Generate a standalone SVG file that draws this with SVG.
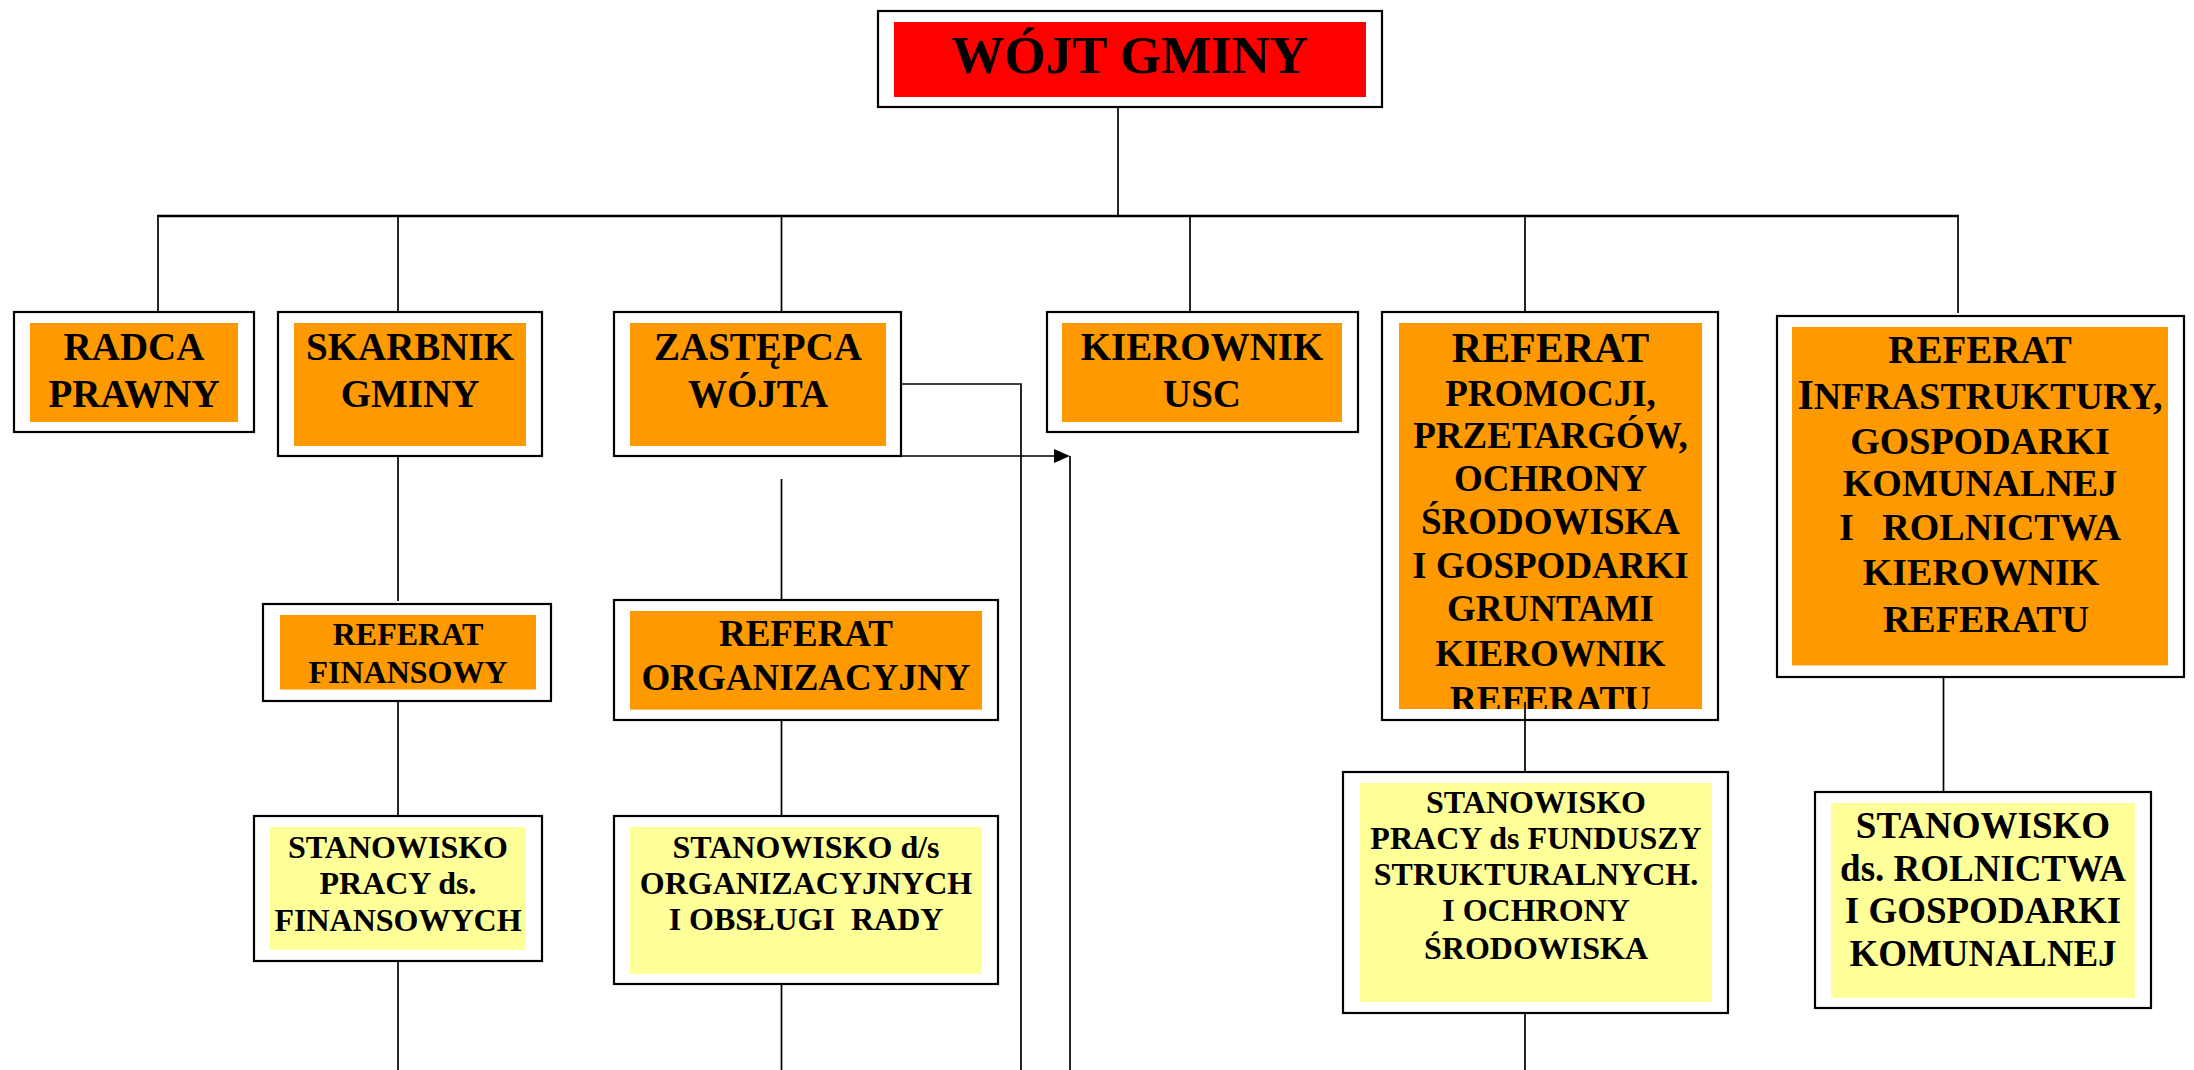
<svg xmlns="http://www.w3.org/2000/svg" width="2194" height="1070" viewBox="0 0 2194 1070">
<style>
.o{fill:#fff;stroke:#000;stroke-width:2.2}
.or{fill:#FF9900}
.ye{fill:#FFFF99}
.rd{fill:#FF0000}
text{font-family:"Liberation Serif","Times New Roman",serif;font-weight:bold;fill:#000;text-anchor:middle;white-space:pre}
.c{fill:none;stroke:#000;stroke-width:1.7}
</style>
<defs>
<clipPath id="clipProm"><rect x="1399" y="323" width="303" height="386"/></clipPath>
</defs>
<rect width="2194" height="1070" fill="#fff"/>
<g id="connectors">
<line class="c" x1="1118" y1="96" x2="1118" y2="216"/>
<line x1="157" y1="216" x2="1959" y2="216" stroke="#000" stroke-width="2.6"/>
<line class="c" x1="158" y1="216" x2="158" y2="312"/>
<line class="c" x1="398" y1="216" x2="398" y2="312"/>
<line class="c" x1="781.5" y1="216" x2="781.5" y2="312"/>
<line class="c" x1="1190" y1="216" x2="1190" y2="312"/>
<line class="c" x1="1525" y1="216" x2="1525" y2="312"/>
<line class="c" x1="1958" y1="216" x2="1958" y2="313"/>
<line class="c" x1="398" y1="456" x2="398" y2="601"/>
<line class="c" x1="398" y1="696" x2="398" y2="816"/>
<line class="c" x1="398" y1="961" x2="398" y2="1070"/>
<line class="c" x1="781.5" y1="479" x2="781.5" y2="600"/>
<line class="c" x1="781.5" y1="720" x2="781.5" y2="816"/>
<line class="c" x1="781.5" y1="984" x2="781.5" y2="1070"/>
<polyline class="c" points="901,384 1021,384 1021,1070"/>
<line class="c" x1="901" y1="456" x2="1055" y2="456"/>
<polygon points="1054,449 1070,456 1054,463" fill="#000"/>
<line class="c" x1="1070" y1="456" x2="1070" y2="1070"/>
<line class="c" x1="1943.5" y1="677" x2="1943.5" y2="797"/>
<line class="c" x1="1525" y1="1008" x2="1525" y2="1070"/>
</g>
<g id="wojt">
<rect class="o" x="878" y="11" width="504" height="96"/>
<rect class="rd" x="894" y="22" width="472" height="75"/>
<text x="1130" y="73" font-size="53">WÓJT GMINY</text>
</g>
<g id="radca">
<rect class="o" x="14" y="312" width="240" height="120"/>
<rect class="or" x="30" y="323" width="208" height="99"/>
<text x="134" y="360" font-size="39">RADCA</text>
<text x="134" y="407" font-size="39">PRAWNY</text>
</g>
<g id="skarbnik">
<rect class="o" x="278" y="312" width="264" height="144"/>
<rect class="or" x="294" y="323" width="232" height="123"/>
<text x="410" y="360" font-size="39">SKARBNIK</text>
<text x="410" y="407" font-size="39">GMINY</text>
</g>
<g id="zastepca">
<rect class="o" x="614" y="312" width="287" height="144"/>
<rect class="or" x="630" y="323" width="256" height="123"/>
<text x="758" y="360" font-size="39">ZASTĘPCA</text>
<text x="758" y="407" font-size="39">WÓJTA</text>
</g>
<g id="kierownik-usc">
<rect class="o" x="1047" y="312" width="311" height="120"/>
<rect class="or" x="1062" y="323" width="280" height="99"/>
<text x="1202" y="360" font-size="39">KIEROWNIK</text>
<text x="1202" y="407" font-size="39">USC</text>
</g>
<g id="referat-promocji">
<rect class="o" x="1382" y="312" width="336" height="408"/>
<rect class="or" x="1399" y="323" width="303" height="386"/>
<g clip-path="url(#clipProm)" font-size="37">
<text x="1550.5" y="362" font-size="42">REFERAT</text>
<text x="1550.5" y="406">PROMOCJI,</text>
<text x="1550.5" y="448">PRZETARGÓW,</text>
<text x="1550.5" y="491">OCHRONY</text>
<text x="1550.5" y="534">ŚRODOWISKA</text>
<text x="1550.5" y="578">I GOSPODARKI</text>
<text x="1550.5" y="621">GRUNTAMI</text>
<text x="1550.5" y="666">KIEROWNIK</text>
<text x="1550.5" y="711.5">REFERATU</text>
</g>
<line class="c" x1="1525" y1="702" x2="1525" y2="772"/>
</g>
<g id="referat-infrastruktury">
<rect class="o" x="1777" y="316" width="407" height="361"/>
<rect class="or" x="1792" y="327" width="376" height="338.4"/>
<text x="1980" y="363" font-size="39">REFERAT</text>
<text x="1980" y="409" font-size="38"><tspan font-size="42">I</tspan>NFRASTRUKTURY,</text>
<text x="1980" y="454" font-size="38">GOSPODARKI</text>
<text x="1980" y="496" font-size="38">KOMUNALNEJ</text>
<text x="1980" y="540" font-size="38">I   ROLNICTWA</text>
<text x="1981" y="585" font-size="38">KIEROWNIK</text>
<text x="1986" y="632" font-size="38">REFERATU</text>
</g>
<g id="referat-finansowy">
<rect class="o" x="263" y="604" width="288" height="97"/>
<rect class="or" x="280" y="615" width="256" height="74.5"/>
<text x="408" y="645" font-size="32">REFERAT</text>
<text x="408" y="683" font-size="32">FINANSOWY</text>
</g>
<g id="referat-organizacyjny">
<rect class="o" x="614" y="600" width="384" height="120"/>
<rect class="or" x="630" y="611" width="352" height="98.6"/>
<text x="806" y="646" font-size="37">REFERAT</text>
<text x="806" y="690" font-size="37">ORGANIZACYJNY</text>
</g>
<g id="stanowisko-finansowe">
<rect class="o" x="254" y="816" width="288" height="145"/>
<rect class="ye" x="270" y="827" width="256" height="123"/>
<text x="398" y="858" font-size="32">STANOWISKO</text>
<text x="398" y="894" font-size="32">PRACY ds.</text>
<text x="398" y="931" font-size="32">FINANSOWYCH</text>
</g>
<g id="stanowisko-organizacyjne">
<rect class="o" x="614" y="816" width="384" height="168"/>
<rect class="ye" x="630" y="827" width="352" height="147"/>
<text x="806" y="858" font-size="32">STANOWISKO d/s</text>
<text x="806" y="894" font-size="32">ORGANIZACYJNYCH</text>
<text x="806" y="930" font-size="32">I OBSŁUGI  RADY</text>
</g>
<g id="stanowisko-fundusze">
<rect class="o" x="1343" y="772" width="385" height="241"/>
<rect class="ye" x="1360" y="783" width="352" height="219"/>
<text x="1536" y="813" font-size="32">STANOWISKO</text>
<text x="1536" y="849" font-size="32">PRACY ds FUNDUSZY</text>
<text x="1536" y="885" font-size="32">STRUKTURALNYCH.</text>
<text x="1536" y="921" font-size="32">I OCHRONY</text>
<text x="1536" y="959" font-size="32">ŚRODOWISKA</text>
</g>
<g id="stanowisko-rolnictwo">
<rect class="o" x="1815" y="792" width="336" height="216"/>
<rect class="ye" x="1831" y="803" width="304" height="195"/>
<text x="1983" y="838" font-size="37">STANOWISKO</text>
<text x="1983" y="881" font-size="37">ds. ROLNICTWA</text>
<text x="1983" y="923" font-size="37">I GOSPODARKI</text>
<text x="1983" y="966" font-size="37">KOMUNALNEJ</text>
</g>
</svg>
